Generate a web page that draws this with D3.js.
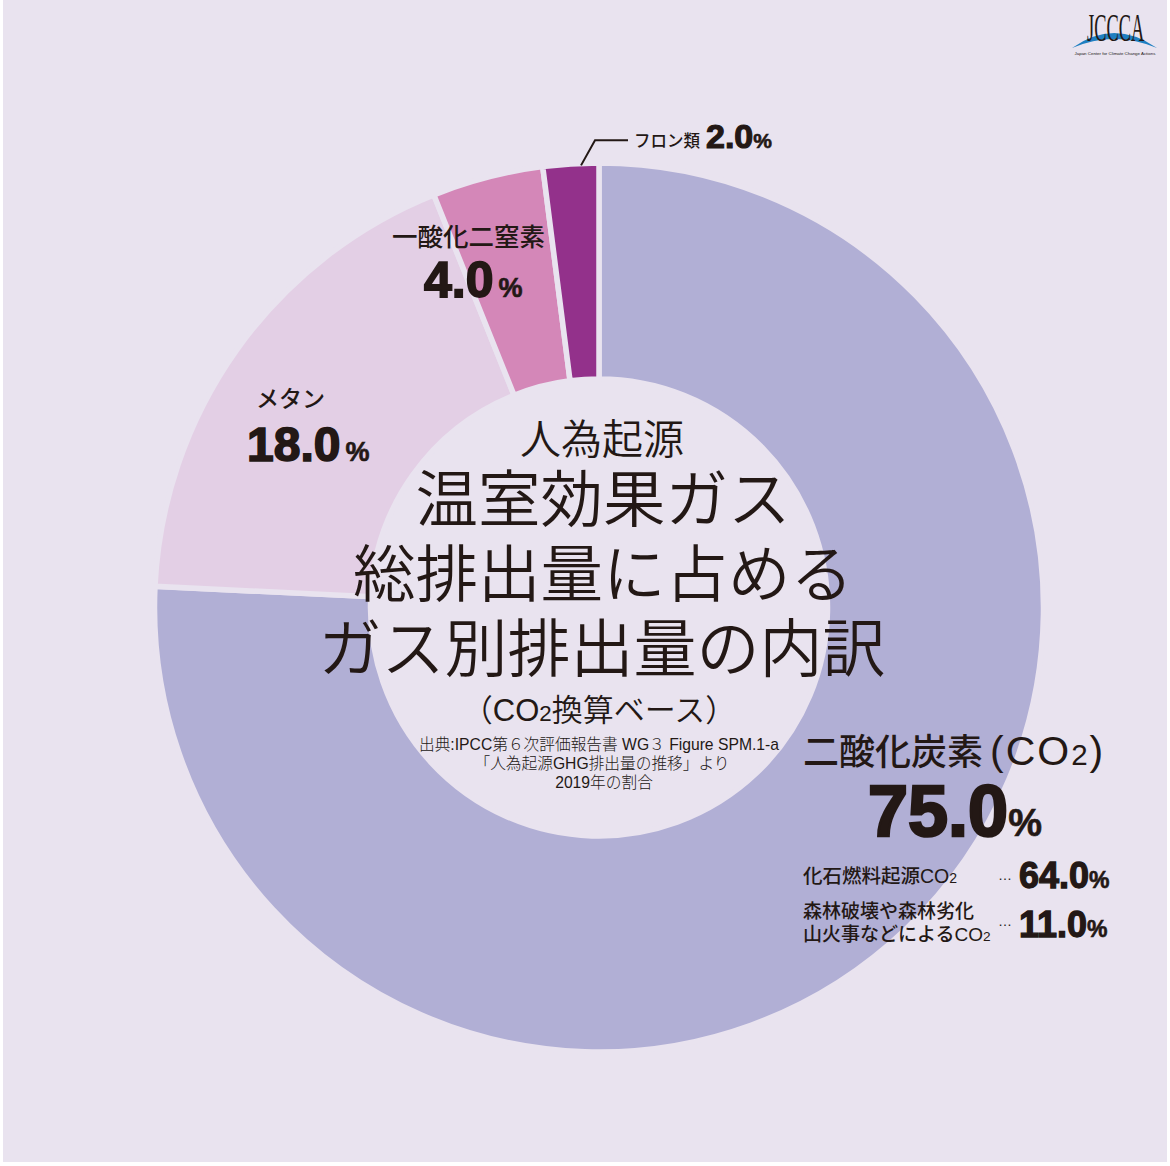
<!DOCTYPE html>
<html>
<head>
<meta charset="utf-8">
<script src="https://cdn.jsdelivr.net/npm/d3@7"></script>
<style>
  html, body { margin: 0; padding: 0; background: #fff; }
  text { fill: #231815; font-family: "Liberation Sans", "Noto Sans CJK JP", sans-serif; }
  .num { font-family: "Liberation Sans", sans-serif; font-weight: 700; stroke: #231815; }
</style>
</head>
<body>
<div id="chart"></div>
<script>
// chart values
var gases = ["二酸化炭素", "メタン", "一酸化二窒素", "フロン類"];
var shares = [75.0, 18.0, 4.0, 2.0];
var sliceColors = ["#b1afd5", "#e3cfe5", "#d487b8", "#93318b"];

var titleLines = ["温室効果ガス", "総排出量に占める", "ガス別排出量の内訳"];
var sourceLines = ["出典:IPCC第６次評価報告書 WG３ Figure SPM.1-a", "「人為起源GHG排出量の推移」より", "2019年の割合"];
var co2Parts = ["化石燃料起源CO_2", "森林破壊や森林劣化", "山火事などによるCO_2"];
var co2PartShares = [64.0, 11.0];

var svgWidth = 1170;
var svgHeight = 1166;
var cx = 599;
var cy = 607.5;
var outerR = 444.5;
var innerR = 228.5;
var bg = "#e9e3ef";

var svg = d3.select("#chart")
  .append("svg")
  .attr("width", svgWidth)
  .attr("height", svgHeight)
  .style("display", "block");

svg.append("rect")
  .attr("x", 3)
  .attr("y", 0)
  .attr("width", 1164)
  .attr("height", 1162)
  .attr("fill", bg);

// Donut
var pie = d3.pie().sort(null).value(d => d);
var arc = d3.arc().innerRadius(innerR).outerRadius(outerR);
var slices = pie(shares);

var chartGroup = svg.append("g")
  .attr("transform", `translate(${cx}, ${cy})`);

chartGroup.selectAll("path")
  .data(slices)
  .enter()
  .append("path")
  .attr("d", arc)
  .attr("fill", (d, i) => sliceColors[i])
  .attr("stroke", bg)
  .attr("stroke-width", 5.5);

// Leader line for the smallest slice
var last = slices[slices.length - 1];
var leaderAngle = last.startAngle + (last.endAngle - last.startAngle) * 0.68;
var lx = Math.sin(leaderAngle) * (outerR - 2);
var ly = -Math.cos(leaderAngle) * (outerR - 2);
chartGroup.append("path")
  .attr("d", `M${lx},${ly}L${lx + 14},${ly - 25}H${lx + 47}`)
  .attr("fill", "none")
  .attr("stroke", "#231815")
  .attr("stroke-width", 2);

// "_2" in a string becomes a smaller 2 on the same baseline
function label(x, y, str, size, weight, anchor) {
  var t = svg.append("text")
    .attr("x", x)
    .attr("y", y)
    .attr("font-size", size)
    .attr("font-weight", weight || 400)
    .attr("text-anchor", anchor || "start");
  str.split("_").forEach(function(part, i) {
    if (i == 0) {
      t.append("tspan").text(part);
    } else {
      t.append("tspan").attr("font-size", size * 0.72).text(part.charAt(0));
      if (part.length > 1) t.append("tspan").text(part.slice(1));
    }
  });
  return t;
}

// number + small percent sign
function pct(x, y, value, size, pctSize, gap) {
  var t = svg.append("text")
    .attr("class", "num")
    .attr("x", x)
    .attr("y", y)
    .attr("font-size", size)
    .attr("stroke-width", size * 0.035);
  t.append("tspan").text(value.toFixed(1));
  t.append("tspan")
    .attr("dx", gap || 0)
    .attr("font-size", pctSize)
    .attr("stroke-width", 0.6)
    .text("%");
  return t;
}

// Centre text
label(cx + 3, 454, "人為起源", 41, 350, "middle");
titleLines.forEach(function(line, i) {
  label(cx + [4, 4, 3][i], [522, 597, 671][i], line, [62.5, 62.5, 63][i], 350, "middle");
});
label(cx, 721, "（CO_2換算ベース）", 31, 350, "middle");
sourceLines.forEach(function(line, i) {
  label(cx + [0, 3, 5][i], 750 + i * 19, line, 15.7, 300, "middle");
});

// CO2 block
label(803, 765, gases[0], 36, 500);
label(990, 765, "(CO_2)", 41, 400).attr("letter-spacing", 2);
pct(868, 836, shares[0], 72, 38);
label(803, 883, co2Parts[0], 19.5, 500);
label(803, 918, co2Parts[1], 19, 500);
label(803, 941, co2Parts[2], 19, 500);
label(998, 880, "…", 14, 400);
label(998, 926, "…", 14, 400);
pct(1019, 888, co2PartShares[0], 36, 23);
pct(1019, 937, co2PartShares[1], 36, 23);

// Other gases
label(256, 407, gases[1], 23, 500);
pct(247, 461, shares[1], 48, 27, 5);
label(392, 246, gases[2], 25.5, 500);
pct(424, 297, shares[2], 50, 27, 5);
label(634, 147, gases[3], 16.5, 500);
pct(706, 148, shares[3], 34, 21);

// JCCCA logo
var logo = svg.append("g");
logo.append("path")
  .attr("d", "M1072,48Q1114,18 1157,48Q1114,30 1072,48Z")
  .attr("fill", "#1f7fc1");
logo.append("text")
  .attr("transform", "translate(1087, 41) scale(0.46, 1)")
  .attr("font-size", 40)
  .style("font-family", "'Liberation Serif', serif")
  .text("JCCCA");
logo.append("text")
  .attr("x", 1115)
  .attr("y", 55)
  .attr("text-anchor", "middle")
  .attr("font-size", 4.4)
  .text("Japan Center for Climate Change Actions");
</script>
</body>
</html>
